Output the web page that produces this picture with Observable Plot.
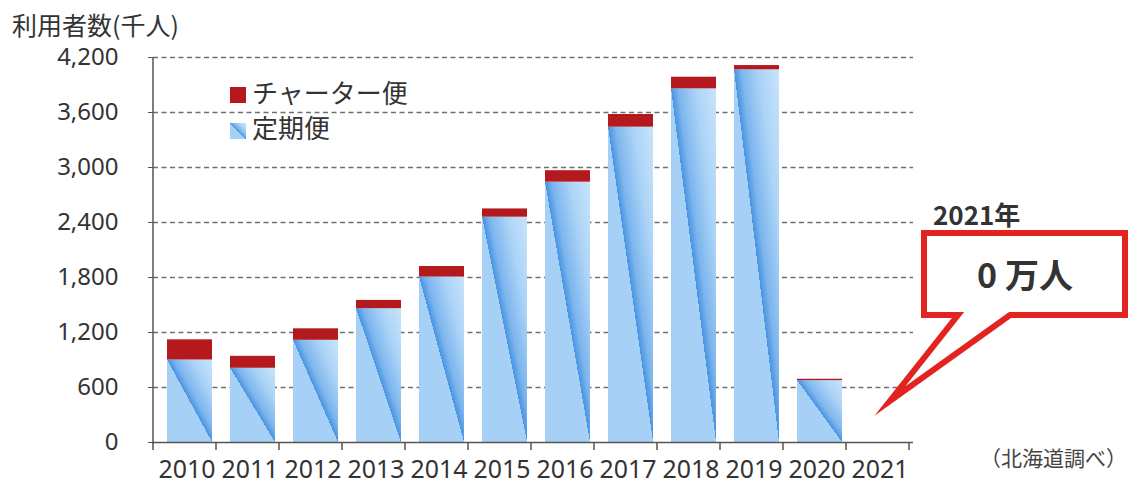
<!DOCTYPE html>
<html><head><meta charset="utf-8">
<script src="https://cdn.jsdelivr.net/npm/d3@7"></script>
<script src="https://cdn.jsdelivr.net/npm/@observablehq/plot@0.6"></script>
<style>
html,body{margin:0;padding:0;background:#fff;}
#chart{position:relative;width:1129px;height:486px;}
</style></head><body><div id="chart"></div>
<script>
const years = ["2010","2011","2012","2013","2014","2015","2016","2017","2018","2019","2020","2021"];
const regular = [900, 810, 1115, 1460, 1805, 2458, 2840, 3440, 3858, 4066, 675, 0];
const charter = [220, 130, 125, 90, 115, 90, 125, 138, 127, 46, 15, 0];
const yTicks = [0, 600, 1200, 1800, 2400, 3000, 3600, 4200];
const seriesNames = ["定期便", "チャーター便"];
const titleText = "利用者数(千人)";
const sourceText = "（北海道調べ）";
const calloutYear = "2021年";
const calloutValue = "0 万人";

const rows = years.flatMap((y, i) => [
  {year: y, series: seriesNames[0], value: regular[i]},
  {year: y, series: seriesNames[1], value: charter[i]}
]);

const plot = Plot.plot({
  width: 1129, height: 486,
  marginLeft: 153, marginRight: 216, marginTop: 57, marginBottom: 44,
  style: {fontFamily: "'Noto Sans', sans-serif", background: "transparent", color: "#333", overflow: "visible"},
  x: {domain: years, paddingInner: 0.28, paddingOuter: 0.14, label: null},
  y: {domain: [0, 4200], label: null},
  color: {domain: seriesNames, range: ["url(#regGrad)", "#b3191d"]},
  marks: [
    Plot.gridY(yTicks.slice(1), {stroke: "#707070", strokeOpacity: 1, strokeDasharray: "5,3.5", strokeWidth: 1.3}),
    Plot.barY(rows, {x: "year", y: "value", fill: "series", order: seriesNames, dx: 3}),
    Plot.ruleY([0], {stroke: "#555", strokeWidth: 1.5}),
    Plot.axisY(yTicks, {tickSize: 5, tickPadding: 30, fontSize: 24, tickFormat: d3.format(","), stroke: "#555", fill: "#333"}),
    Plot.axisX({tickSize: 0, tickPadding: 17, fontSize: 26, fill: "#333"})
  ]
});

const svg = d3.select(plot);
svg.insert("defs", ":first-child").html(`
  <linearGradient id="regGrad" x1="0" y1="1" x2="1" y2="0">
    <stop offset="0" stop-color="#a6d0f6"/>
    <stop offset="0.5" stop-color="#a6d0f6"/>
    <stop offset="0.5" stop-color="#4893e2"/>
    <stop offset="0.58" stop-color="#7cb5ed"/>
    <stop offset="0.78" stop-color="#acd4f7"/>
    <stop offset="1" stop-color="#c8e4fa"/>
  </linearGradient>`);

// compress x labels like reference
svg.selectAll('g[aria-label="x-axis tick label"] text')
  .attr("textLength", 57).attr("lengthAdjust", "spacingAndGlyphs");

const xs = plot.scale("x"), ys = plot.scale("y");
const x0 = xs.range[0];
const step = xs.step || (xs.range[1] - xs.range[0]) / years.length;
const yBase = ys.apply(0), yTop = ys.apply(4200);
const deco = svg.append("g");
deco.append("line").attr("x1", x0).attr("x2", x0).attr("y1", yBase + 2).attr("y2", yTop)
  .attr("stroke", "#555").attr("stroke-width", 1.5);
for (let i = 0; i <= years.length; i++) {
  const xb = x0 + i * step;
  deco.append("line").attr("x1", xb).attr("x2", xb).attr("y1", yBase).attr("y2", yBase + 8)
    .attr("stroke", "#555").attr("stroke-width", 1.5);
}

const ann = svg.append("g").attr("text-anchor", "start").attr("font-family", "'Noto Sans CJK JP', sans-serif");

// title
ann.append("text").attr("x", 12).attr("y", 35).attr("text-anchor", "start").text(titleText)
  .attr("font-size", 25).attr("fill", "#333");

// legend
const leg = ann.append("g").attr("font-size", 26).attr("fill", "#333");
leg.append("rect").attr("x", 230).attr("y", 87).attr("width", 16).attr("height", 16).attr("fill", "#b3191d");
leg.append("text").attr("x", 252).attr("y", 103).attr("text-anchor", "start").text(seriesNames[1]);
leg.append("rect").attr("x", 230).attr("y", 123).attr("width", 16).attr("height", 16).attr("fill", "url(#regGrad)");
leg.append("text").attr("x", 252).attr("y", 138).attr("text-anchor", "start").text(seriesNames[0]);

// callout
ann.append("path")
  .attr("d", "M924,233 H1125 V315 H1010 L890,401 L958,315 H924 Z")
  .attr("fill", "#fff").attr("stroke", "#e2231f").attr("stroke-width", 6).attr("stroke-linejoin", "miter").attr("stroke-miterlimit", 20);
ann.append("text").attr("x", 933).attr("y", 225).attr("text-anchor", "start").text(calloutYear)
  .attr("font-weight", "bold").attr("font-size", 26).attr("fill", "#333");
ann.append("text").attr("x", 1025).attr("y", 288).attr("text-anchor", "middle").text(calloutValue)
  .attr("font-weight", "bold").attr("font-size", 34).attr("fill", "#333");

// source
ann.append("text").attr("x", 1127).attr("y", 466).attr("text-anchor", "end").text(sourceText)
  .attr("font-size", 21).attr("fill", "#444");

document.getElementById("chart").appendChild(plot);
</script></body></html>
